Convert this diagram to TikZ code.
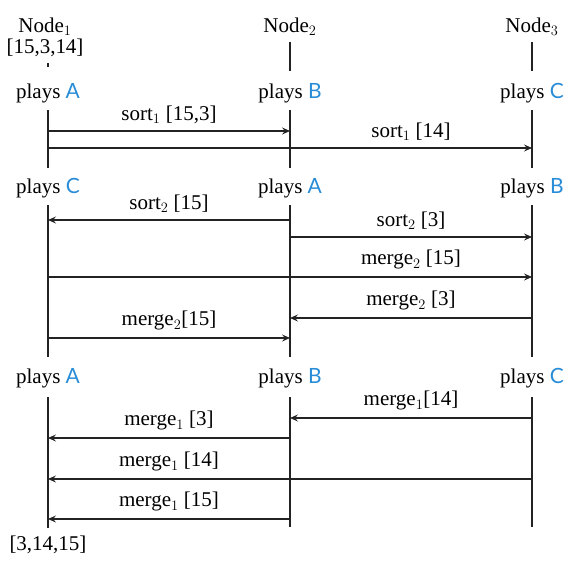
\documentclass[tikz,border=0pt]{standalone}
\usepackage{fontspec}
\setmainfont{Liberation Serif}
\newfontfamily\blufont{Lato}
\usetikzlibrary{arrows.meta}
\definecolor{actblue}{RGB}{40,140,215}
\definecolor{lline}{RGB}{35,35,35}
\newcommand{\pl}[1]{plays {\blufont\color{actblue}#1}}
\tikzset{
  txt/.style={inner sep=0pt, font=\fontsize{21}{24}\selectfont},
  life/.style={draw=lline, line width=1.1pt},
  msg/.style={draw=lline, line width=1.1pt, -{Stealth[length=8pt,width=7pt,inset=3pt]}},
  lbl/.style={txt}
}
\begin{document}
\begin{tikzpicture}[x=1pt,y=-1pt]
\useasboundingbox (0,0) rectangle (576,562);
% headers
\node[txt] (n1) at (45,27) {Node$_1$};
\node[txt] (l1) at (45,48) {[15,3,14]};
\node[txt] (n2) at (290,27) {Node$_2$};
\node[txt] (n3) at (532,27) {Node$_3$};
\draw[life] (48,63) -- (48,67);
\draw[life] (290,42) -- (290,71);
\draw[life] (532,42) -- (532,71);
% row 1
\node[txt] (r1a) at (48,93) {\pl{A}};
\node[txt] (r1b) at (290,93) {\pl{B}};
\node[txt] (r1c) at (532,93) {\pl{C}};
\coordinate (a1t) at (48,110); \coordinate (a1b) at (48,168);
\coordinate (b1t) at (290,110); \coordinate (b1b) at (290,168);
\coordinate (c1t) at (532,110); \coordinate (c1b) at (532,168);
\draw[life] (a1t) -- (a1b);
\draw[life] (b1t) -- (b1b);
\draw[life] (c1t) -- (c1b);
\draw[msg] (48,131) -- node[lbl,above=7pt]{sort$_1$ [15,3]} (290,131);
\draw[msg] (48,148) -- node[lbl,above=7pt,pos=0.75]{sort$_1$ [14]} (532,148);
% row 2
\node[txt] (r2a) at (48,188) {\pl{C}};
\node[txt] (r2b) at (290,188) {\pl{A}};
\node[txt] (r2c) at (532,188) {\pl{B}};
\coordinate (a2t) at (48,205); \coordinate (a2b) at (48,357);
\coordinate (b2t) at (290,205); \coordinate (b2b) at (290,357);
\coordinate (c2t) at (532,205); \coordinate (c2b) at (532,357);
\draw[life] (a2t) -- (a2b);
\draw[life] (b2t) -- (b2b);
\draw[life] (c2t) -- (c2b);
\draw[msg] (290,220) -- node[lbl,above=7pt]{sort$_2$ [15]} (48,220);
\draw[msg] (290,237) -- node[lbl,above=7pt]{sort$_2$ [3]} (532,237);
\draw[msg] (48,277) -- node[lbl,above=7pt,pos=0.75]{merge$_2$ [15]} (532,277);
\draw[msg] (532,318) -- node[lbl,above=7pt]{merge$_2$ [3]} (290,318);
\draw[msg] (48,338) -- node[lbl,above=7pt]{merge$_2$[15]} (290,338);
% row 3
\node[txt] (r3a) at (48,378) {\pl{A}};
\node[txt] (r3b) at (290,378) {\pl{B}};
\node[txt] (r3c) at (532,378) {\pl{C}};
\coordinate (a3t) at (48,397); \coordinate (a3b) at (48,528);
\coordinate (b3t) at (290,397); \coordinate (b3b) at (290,527);
\coordinate (c3t) at (532,397); \coordinate (c3b) at (532,527);
\draw[life] (a3t) -- (a3b);
\draw[life] (b3t) -- (b3b);
\draw[life] (c3t) -- (c3b);
\draw[msg] (532,418) -- node[lbl,above=7pt]{merge$_1$[14]} (290,418);
\draw[msg] (290,438) -- node[lbl,above=7pt]{merge$_1$ [3]} (48,438);
\draw[msg] (532,479) -- node[lbl,above=7pt,pos=0.75]{merge$_1$ [14]} (48,479);
\draw[msg] (290,519) -- node[lbl,above=7pt]{merge$_1$ [15]} (48,519);
\node[txt] (res) at (48,545) {[3,14,15]};
\end{tikzpicture}
\end{document}
